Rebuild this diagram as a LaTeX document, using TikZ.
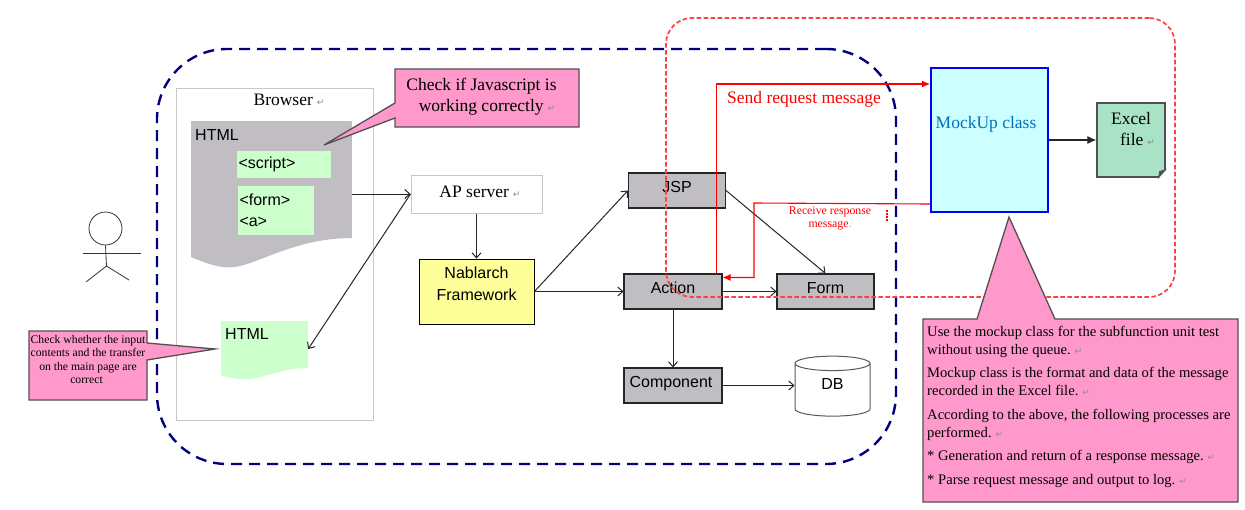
\documentclass[tikz,border=0pt]{standalone}
\usepackage{fontspec}
\setmainfont{Liberation Serif}
\setsansfont{Liberation Sans}
\newfontfamily\markfont{DejaVu Sans}
\usetikzlibrary{arrows.meta,shapes.geometric}
\newcommand{\retmark}{\hspace{4pt}{\markfont\fontsize{9}{9}\selectfont\textcolor{black!45}{↵}}}
\newcommand{\serifsize}{\fontsize{17.5}{21}\selectfont}
\newcommand{\sanssize}{\sffamily\fontsize{16}{22}\selectfont}
\definecolor{calloutpink}{HTML}{FF99CC}
\definecolor{boxgray}{HTML}{C0BEC2}
\definecolor{palegreen}{HTML}{CCFFCC}
\definecolor{edgegray}{HTML}{505050}
\definecolor{areanavy}{HTML}{000080}
\definecolor{mockblue}{HTML}{0070C0}
\definecolor{excelgreen}{HTML}{A9E2C6}
\definecolor{mockcyan}{HTML}{CCFFFF}
\definecolor{frameyellow}{HTML}{FFFF99}
\definecolor{areared}{HTML}{FF4040}
\tikzset{
  >={Straight Barb[length=5pt,width=9pt]},
  area/.style={draw,rounded corners=#1,inner sep=0pt},
  graybox/.style={draw=black!85,line width=1.1pt,fill=boxgray,inner sep=0pt,font=\sanssize,
    text height=11pt,text depth=8pt},
  greenbox/.style={fill=palegreen,inner sep=1.5pt,font=\sanssize,align=left},
  plainbox/.style={draw=black!22,line width=1pt,fill=white,inner sep=0pt},
  calloutshape/.style={draw=edgegray,line width=1.3pt,fill=calloutpink,line join=miter},
  flow/.style={->,line width=1pt,black!85},
  redflow/.style={-{Latex[length=8pt,width=7pt]},line width=1.1pt,red},
}
\begin{document}
\begin{tikzpicture}[x=1pt,y=-1pt]
\useasboundingbox (0,0) rectangle (1245,509);
% outer areas
\node (mainarea) at (526.5,256.5) [area=70pt,draw=areanavy,minimum width=739pt,minimum height=415pt,
  line width=2.4pt,dash pattern=on 11pt off 7pt] {};
\node (browser) at (274.5,254) [plainbox,minimum width=197pt,minimum height=332pt] {};
\node (browsertext) at (289,100) [font=\serifsize] {Browser\retmark};
% user
\node (head) at (105.5,228.5) [circle,draw=black!80,line width=0.8pt,minimum size=33pt,inner sep=0pt] {};
\coordinate (armleft) at (82.5,253);
\coordinate (armright) at (141,253);
\coordinate (hip) at (106.5,266);
\coordinate (footleft) at (86,282);
\coordinate (footright) at (129,280);
\draw[line width=0.8pt,black!80] (armleft) -- (armright);
\draw[line width=0.8pt,black!80] (head.south) -- (hip);
\draw[line width=0.8pt,black!80] (footleft) -- (hip) -- (footright);
% pages
\fill[boxgray] (191,237) -- (191,257) .. controls (210,265) and (225,270) .. (240,266)
  .. controls (265,260) and (300,238) .. (352,238) -- (352,237) -- cycle;
\node (htmlpage) at (271.5,179.5) [fill=boxgray,minimum width=161pt,minimum height=117pt,inner sep=0pt] {};
\node (htmllabel) at (195,135) [anchor=west,font=\sanssize,inner sep=0pt] {HTML};
\node (script) at (284,164.5) [greenbox,minimum width=94pt,minimum height=27pt,text width=91pt] {<script>};
\node (formtag) at (276,210.5) [greenbox,minimum width=76pt,minimum height=49pt,text width=73pt] {<form>\\[-1.5pt]<a>};
\fill[palegreen] (221,367) -- (221,375) .. controls (232,379) and (245,380) .. (256,378)
  .. controls (272,375) and (285,368) .. (308,368) -- (308,367) -- cycle;
\node (htmlsmall) at (264.5,344.5) [fill=palegreen,minimum width=87pt,minimum height=47pt,inner sep=0pt] {};
\node (smalllabel) at (225,334) [anchor=west,font=\sanssize,inner sep=0pt] {HTML};
% servers
\node (apserver) at (476.5,194) [plainbox,minimum width=131pt,minimum height=38pt,font=\serifsize,text depth=4pt]
  {\hspace*{7pt}AP server\retmark};
\node (nablarch) at (476.5,291.5) [draw=black,line width=0.9pt,fill=frameyellow,inner sep=0pt,
  minimum width=115pt,minimum height=65pt,font=\sanssize,align=center,text depth=15pt] {Nablarch\\Framework};
\node (jsp) at (677,190.5) [graybox,minimum width=97pt,minimum height=35pt] {JSP};
\node (action) at (673,291.5) [graybox,minimum width=98pt,minimum height=35pt] {Action};
\node (form) at (825.5,291.5) [graybox,minimum width=97pt,minimum height=35pt] {Form};
\node (component) at (673,385.5) [graybox,minimum width=98pt,minimum height=35pt] {\hspace*{-4pt}Component};
\node (db) at (832.5,390) [cylinder,shape border rotate=90,aspect=0.65,draw=black!65,line width=1pt,fill=white,
  minimum width=75pt,minimum height=60pt,inner sep=0pt,font=\sanssize,text depth=13pt] {DB};
\draw[flow] (htmlpage.east |- apserver.west) -- (apserver.west);
\draw[flow] (apserver.west) -- ([yshift=-4.5pt]htmlsmall.east);
\draw[flow] (apserver.south) -- (nablarch.north);
\draw[flow] (nablarch.east) -- (jsp.west);
\draw[flow] (nablarch.east) -- (action.west);
\draw[flow] (jsp.east) -- (form.north);
\draw[flow] (action.east) -- (form.west);
\draw[flow] (action.south) -- (component.north);
\draw[flow] (component.east) -- (component.east -| db.west);
% mockup side
\node (mockarea) at (920.5,157.5) [area=26pt,draw=areared,minimum width=509pt,minimum height=279pt,
  line width=1.7pt,dash pattern=on 4.5pt off 2.5pt] {};
\node (mockup) at (989.5,140) [draw=blue,line width=2pt,fill=mockcyan,minimum width=117pt,minimum height=144pt,
  inner sep=0pt,font=\serifsize,text=mockblue,text depth=35pt] {MockUp class\hspace*{7pt}};
\node (excel) at (1131,140) [draw=edgegray,line width=1.2pt,fill=excelgreen,minimum width=68pt,minimum height=74pt,
  inner sep=0pt,font=\serifsize,align=center,text depth=22pt] {Excel\\\hspace*{13pt}file\retmark};
\fill[white] ([xshift=-7pt]excel.south east) -- ([yshift=8pt]excel.south east) -- ([xshift=1pt,yshift=-1pt]excel.south east) -- cycle;
\filldraw[edgegray,line width=0.8pt] ([xshift=-7pt]excel.south east) -- ([yshift=8pt]excel.south east) -- ([xshift=-6pt,yshift=6pt]excel.south east) -- cycle;
\draw[-{Latex[length=9pt,width=8pt]},line width=1.1pt,black!85] (mockup.east) -- (excel.west);
\coordinate (recvturn) at (754,203);
\draw[redflow] ([xshift=-6pt]action.north east) |- ([yshift=-17pt]mockup.north west);
\draw[redflow] ([yshift=9pt]mockup.south west) -- (recvturn) |- ([yshift=-4pt]action.north east);
\node (sendtext) at (804,99) [red,font=\serifsize] {Send request message};
\node (recvtext) at (830,218.5) [red,font=\fontsize{11.8}{13.3}\selectfont,align=center,inner sep=0pt]
  {Receive response\\message\textcolor{black!35}{.}};
\draw[red,line width=1.5pt,dash pattern=on 2pt off 1pt] (887,210) -- (887,222);
% callouts
\draw[calloutshape] (395,69) -- (579,69) -- (579,127) -- (395,127) -- (395,118) -- (324,145) -- (395,103) -- cycle;
\node (jstext) at (481.5,97) [font=\serifsize,align=center,inner sep=0pt] {Check if Javascript is\\\hspace*{11pt}working correctly\retmark};
\draw[calloutshape] (29,331) -- (147,331) -- (147,343) -- (215,349) -- (147,360) -- (147,400) -- (29,400) -- cycle;
\node (inputtext) at (88,359.5) [font=\fontsize{11.7}{13.4}\selectfont,align=center,inner sep=0pt]
  {Check whether the input\\contents and the transfer\\on the main page are\\correct\textcolor{black!35}{.}};
\draw[calloutshape] (923,319) -- (977,319) -- (1009,217) -- (1055,319) -- (1238,319) -- (1238,502) -- (923,502) -- cycle;
\node (mocktext) at (927,326) [anchor=north west,font=\fontsize{14.6}{18}\selectfont,align=left,inner sep=0pt]
  {Use the mockup class for the subfunction unit test\\without using the queue.\retmark\\[5.5pt]
   Mockup class is the format and data of the message\\recorded in the Excel file.\retmark\\[5.5pt]
   According to the above, the following processes are\\performed.\retmark\\[5.5pt]
   * Generation and return of a response message.\retmark\\[6pt]
   * Parse request message and output to log.\retmark};
\end{tikzpicture}
\end{document}
